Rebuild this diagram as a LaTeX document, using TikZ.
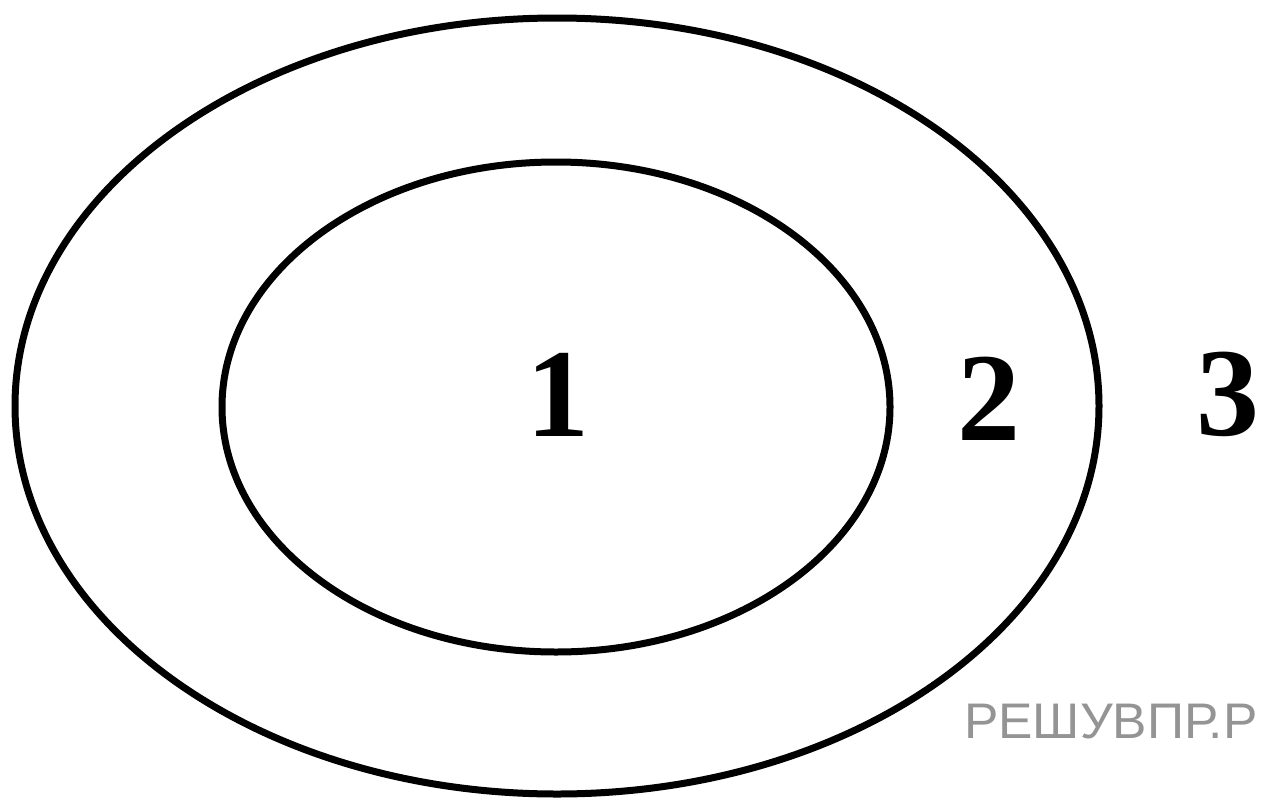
\documentclass[tikz,border=0pt]{standalone}
\usepackage{fontspec}
\setmainfont{Liberation Serif}
\newfontfamily\wmfont{Liberation Sans}
\usetikzlibrary{shapes.geometric}
\begin{document}
\begin{tikzpicture}[x=1pt,y=-1pt,
  ring/.style={draw=black,line width=7pt,ellipse,inner sep=0pt,fill=none},
  num/.style={font=\fontsize{126}{126}\selectfont\bfseries,anchor=base,inner sep=0pt},
  wm/.style={font=\wmfont\fontsize{50}{50}\selectfont,text=black!42,anchor=base west,inner sep=0pt,xscale=1.03}]
\fill[white] (0,0) rectangle (1266,803);
\useasboundingbox (0,0) rectangle (1266,803);
\node[ring,minimum width=1084pt,minimum height=776pt] (outer) at (557,406) {};
\node[ring,minimum width=668pt,minimum height=490pt] (inner) at (556,407) {};
\node[num] (n1) at (558,436) {1};
\node[num] (n2) at (989,440) {2};
\node[num] (n3) at (1228,435) {3};
\node[wm] (wm) at (964,738) {РЕШУВПР.Р};
\end{tikzpicture}
\end{document}
